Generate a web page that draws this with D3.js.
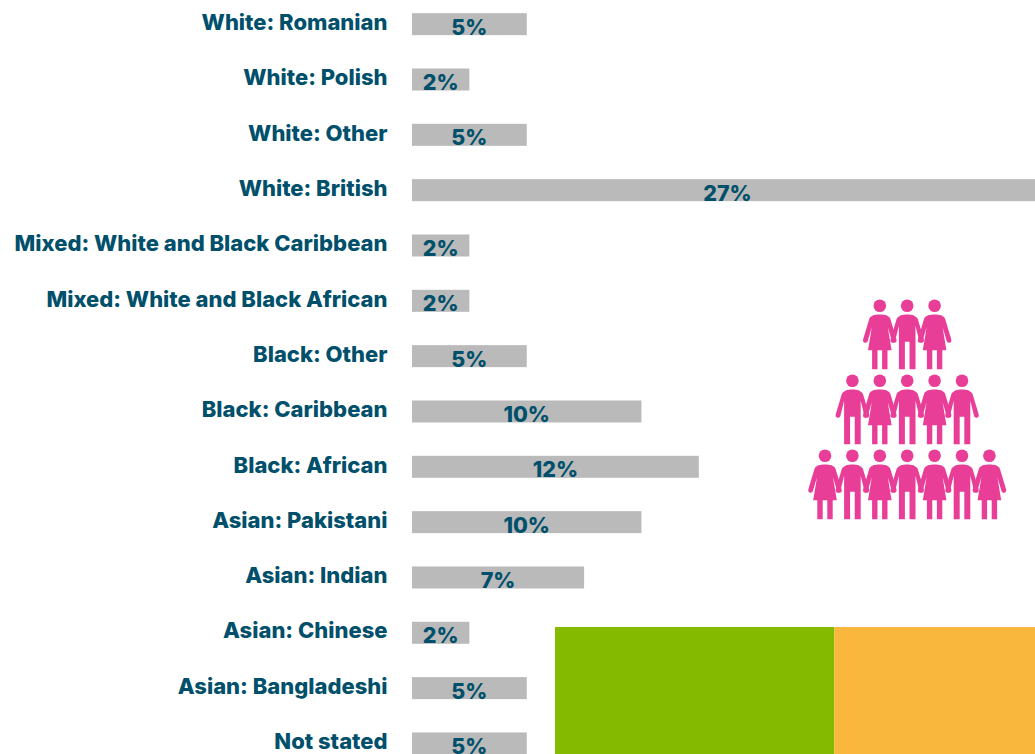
<!DOCTYPE html>
<html><head><meta charset="utf-8">
<script src="https://cdn.jsdelivr.net/npm/d3@7"></script>
<style>html,body{margin:0;padding:0;background:#fff;overflow:hidden}svg{display:block}</style>
</head><body>
<svg id="c" width="1035" height="754"></svg>
<script>
const categories = ["White: Romanian","White: Polish","White: Other","White: British","Mixed: White and Black Caribbean","Mixed: White and Black African","Black: Other","Black: Caribbean","Black: African","Asian: Pakistani","Asian: Indian","Asian: Chinese","Asian: Bangladeshi","Not stated"];
const values = [5,2.5,5,27.5,2.5,2.5,5,10,12.5,10,7.5,2.5,5,5];
const valueLabels = ["5%","2%","5%","27%","2%","2%","5%","10%","12%","10%","7%","2%","5%","5%"];
const pictogramRows = [["f","m","f"],["m","f","m","f","m"],["f","m","f","m","f","m","f"]];
const stackShares = [58.2,41.8];
const stackColors = ["#84bb00","#f9b73e"];

const svg = d3.select("#c");
const ink = "#00506b", barFill = "#bababa", pink = "#e93e97";
const font = "Inter, 'Open Sans', sans-serif";

const x = d3.scaleLinear().domain([0,27.5]).range([412,1043]);
const y = d3.scaleBand().domain(categories).range([-3.5,-3.5+55.33*14]).paddingInner(0.6).paddingOuter(0.3);
const bh = 22;
const yc = c => y(c)+y.bandwidth()/2;

svg.append("g").selectAll("rect").data(categories).join("rect")
  .attr("x",x(0)).attr("y",c=>yc(c)-bh/2).attr("height",bh)
  .attr("width",(c,i)=>x(values[i])-x(0)).attr("fill",barFill);

svg.append("g").selectAll("text").data(categories).join("text")
  .attr("x",387.5).attr("y",c=>yc(c)-2).attr("dy","0.35em")
  .attr("text-anchor","end").attr("font-family",font).attr("font-weight",800)
  .attr("font-size",22).attr("fill",ink).text(c=>c);

svg.append("g").selectAll("text").data(categories).join("text")
  .attr("x",(c,i)=>(x(0)+x(values[i]))/2).attr("y",c=>yc(c)+3).attr("dy","0.35em")
  .attr("text-anchor","middle").attr("font-family",font).attr("font-weight",800)
  .attr("font-size",21.5).attr("fill",ink).text((c,i)=>valueLabels[i]);

// pictogram
const female = "M0 8.7C-5 8.7 -9 9.5 -10.5 13L-16.5 33Q-17.5 36.5 -15 37Q-12.5 37.5 -12 35L-8 21.5L-11.8 44.5L-7.7 44.5L-7.7 63.6L-2.3 63.6L-2.3 44.5L2.3 44.5L2.3 63.6L7.7 63.6L7.7 44.5L11.8 44.5L8 21.5L12 35Q12.5 37.5 15 37Q17.5 36.5 16.5 33L10.5 13C9 9.5 5 8.7 0 8.7Z";
const male = "M0 8.7C-5 8.7 -8 9.5 -10.5 13L-16.5 33Q-17.5 36.5 -15 37Q-12.5 37.5 -12 35L-8.3 20L-8.3 63.6L-2.3 63.6L-2.3 36L2.3 36L2.3 63.6L8.3 63.6L8.3 20L12 35Q12.5 37.5 15 37Q17.5 36.5 16.5 33L10.5 13C8 9.5 5 8.7 0 8.7Z";
const px = d3.scaleLinear().domain([-3,3]).range([825,989.4]);
const py = d3.scaleLinear().domain([0,2]).range([305.7,455.7]);
pictogramRows.forEach((row,r)=>{
  const g = svg.append("g").selectAll("g").data(row).join("g")
    .attr("transform",(d,i)=>`translate(${px(i-(row.length-1)/2)},${py(r)})`).attr("fill",pink);
  g.append("circle").attr("r",6.3);
  g.append("path").attr("d",d=>d==="f"?female:male);
});

// stacked block at bottom, cropped by the page edge
const sx = d3.scaleLinear().domain([0,d3.sum(stackShares)]).range([555,1035]);
let acc = 0;
stackShares.forEach((v,i)=>{
  svg.append("rect").attr("x",sx(acc)).attr("y",627).attr("width",sx(acc+v)-sx(acc)).attr("height",127).attr("fill",stackColors[i]);
  acc += v;
});
</script>
</body></html>
